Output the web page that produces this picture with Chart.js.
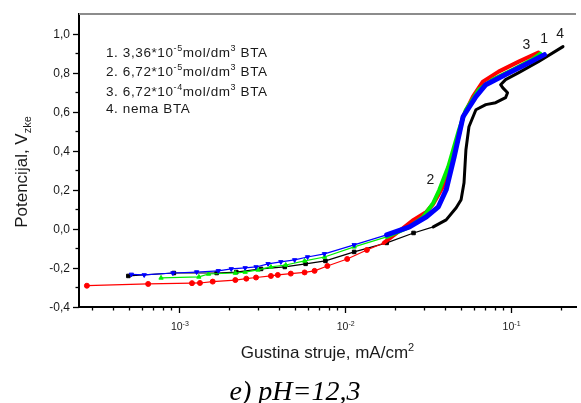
<!DOCTYPE html>
<html lang="en">
<head>
<meta charset="UTF-8">
<title>Polarizacione krive, pH=12,3</title>
<script src="https://cdn.jsdelivr.net/npm/chart.js"></script>
<style>
  body { margin: 0; background: #ffffff; }
  #wrap { width: 581px; height: 403px; }
</style>
</head>
<body>
<div id="wrap"><canvas id="chart" width="581" height="403"></canvas></div>
<script>
// current density (mA/cm2) and potential (V)
const c1X = [5.17e-4, 6.18e-4, 9.21e-4, 1.28e-3, 1.73e-3, 2.07e-3, 2.51e-3, 2.92e-3, 3.45e-3, 4.12e-3, 4.99e-3, 5.97e-3, 7.55e-3, 1.14e-2, 1.79e-2, 2.46e-2, 3.11e-2, 3.67e-2, 4.09e-2, 4.57e-2, 5.17e-2, 6.18e-2, 7.09e-2, 9.33e-2, 0.123, 0.16];
const c1Y = [-0.233, -0.236, -0.226, -0.221, -0.215, -0.205, -0.200, -0.195, -0.179, -0.169, -0.159, -0.144, -0.128, -0.082, -0.031, 0.010, 0.062, 0.113, 0.200, 0.369, 0.574, 0.677, 0.738, 0.790, 0.841, 0.892];

const c2X = [7.81e-4, 1.32e-3, 1.51e-3, 2.19e-3, 2.51e-3, 3.0e-3, 3.59e-3, 4.41e-3, 5.73e-3, 7.55e-3, 1.14e-2, 1.79e-2, 2.46e-2, 2.98e-2, 3.42e-2, 3.72e-2, 4.21e-2, 4.89e-2, 5.38e-2, 6.44e-2, 7.81e-2, 0.103, 0.135, 0.151];
const c2Y = [-0.251, -0.246, -0.231, -0.226, -0.221, -0.210, -0.195, -0.185, -0.164, -0.144, -0.092, -0.041, 0.010, 0.062, 0.133, 0.200, 0.318, 0.508, 0.610, 0.713, 0.764, 0.815, 0.867, 0.897];

const c3X = [2.79e-4, 6.53e-4, 1.20e-3, 1.34e-3, 1.60e-3, 2.19e-3, 2.55e-3, 2.92e-3, 3.59e-3, 3.95e-3, 4.73e-3, 5.73e-3, 6.58e-3, 7.86e-3, 1.035e-2, 1.36e-2, 1.72e-2, 2.06e-2, 2.60e-2, 3.11e-2, 3.42e-2, 3.82e-2, 4.09e-2, 4.70e-2, 5.17e-2, 5.93e-2, 6.81e-2, 8.47e-2, 0.112, 0.147];
const c3Y = [-0.291, -0.282, -0.278, -0.277, -0.270, -0.262, -0.255, -0.249, -0.241, -0.236, -0.229, -0.223, -0.215, -0.190, -0.154, -0.108, -0.072, -0.021, 0.046, 0.087, 0.128, 0.200, 0.251, 0.420, 0.574, 0.677, 0.754, 0.805, 0.856, 0.903];

const c4X = [4.96e-4, 9.33e-4, 1.69e-3, 2.22e-3, 3.13e-3, 4.35e-3, 5.81e-3, 7.65e-3, 1.14e-2, 1.79e-2, 2.60e-2, 3.42e-2, 4.09e-2, 4.70e-2, 5.03e-2, 5.24e-2, 5.38e-2, 5.61e-2, 6.18e-2, 7.09e-2, 8.13e-2, 9.33e-2, 9.59e-2, 8.96e-2, 8.71e-2, 9.33e-2, 0.112, 0.147, 0.207];
const c4Y = [-0.241, -0.226, -0.226, -0.221, -0.205, -0.195, -0.179, -0.164, -0.118, -0.072, -0.021, 0.010, 0.046, 0.108, 0.149, 0.236, 0.405, 0.523, 0.610, 0.636, 0.646, 0.672, 0.697, 0.723, 0.738, 0.764, 0.800, 0.856, 0.933];

const xMajor = [1e-3, 1e-2, 1e-1];
const xMajorExp = ['-3', '-2', '-1'];
const yMajor = [-0.4, -0.2, 0.0, 0.2, 0.4, 0.6, 0.8, 1.0];
const yMajorLabels = ['-0,4', '-0,2', '0,0', '0,2', '0,4', '0,6', '0,8', '1,0'];
const yMinor = [-0.3, -0.1, 0.1, 0.3, 0.5, 0.7, 0.9];

const legendLines = [
  [['1. 3,36*10', ''], ['-5', 'sup'], ['mol/dm', ''], ['3', 'sup'], [' BTA', '']],
  [['2. 6,72*10', ''], ['-5', 'sup'], ['mol/dm', ''], ['3', 'sup'], [' BTA', '']],
  [['3. 6,72*10', ''], ['-4', 'sup'], ['mol/dm', ''], ['3', 'sup'], [' BTA', '']],
  [['4. nema BTA', '']]
];
// curve number labels, placed in data units
const curveTags = [
  { t: '3', x: 0.1246, y: 0.941 },
  { t: '1', x: 0.1596, y: 0.969 },
  { t: '4', x: 0.199, y: 0.995 },
  { t: '2', x: 0.0328, y: 0.251 }
];

const FONT = '"Liberation Sans", Arial, sans-serif';

function pts(xs, ys) {
  return xs.map((v, i) => ({ x: v, y: ys[i] }));
}

function series(label, xs, ys, color, style, rot, dense, thick) {
  return {
    label,
    data: pts(xs, ys),
    borderColor: color,
    backgroundColor: color,
    borderWidth: 1.2,
    borderCapStyle: 'round',
    borderJoinStyle: 'round',
    pointStyle: style,
    rotation: rot,
    pointRadius: c => (c.raw && c.raw.x >= dense) ? 0 : 2.5,
    pointBorderWidth: 1,
    segment: {
      borderWidth: c => c.p0.parsed.x >= dense ? thick : 1.2
    },
    tension: 0
  };
}

function drawParts(ctx, parts, x, y, size, align, spacing) {
  const subSize = Math.round(size * 0.65);
  ctx.letterSpacing = (spacing || 0) + 'px';
  let w = 0;
  parts.forEach(p => {
    ctx.font = (p[1] ? subSize : size) + 'px ' + FONT;
    w += ctx.measureText(p[0]).width;
  });
  let cx = align === 'center' ? x - w / 2 : x;
  ctx.textAlign = 'left';
  ctx.textBaseline = 'alphabetic';
  parts.forEach(p => {
    ctx.font = (p[1] ? subSize : size) + 'px ' + FONT;
    let dy = 0;
    if (p[1] === 'sup') dy = -size * 0.42;
    if (p[1] === 'sub') dy = size * 0.22;
    ctx.fillText(p[0], cx, y + dy);
    cx += ctx.measureText(p[0]).width;
  });
  ctx.letterSpacing = '0px';
}

const decor = {
  id: 'decor',
  afterDraw(chart) {
    const { ctx, chartArea: a } = chart;
    const xs = chart.scales.x, ys = chart.scales.y;
    ctx.save();
    ctx.fillStyle = '#1a1a1a';

    // top frame line
    ctx.strokeStyle = '#8c8c8c';
    ctx.lineWidth = 2;
    ctx.beginPath();
    ctx.moveTo(a.left, a.top);
    ctx.lineTo(a.right, a.top);
    ctx.stroke();

    // x ticks
    ctx.strokeStyle = '#000';
    ctx.lineWidth = 1.3;
    for (let d = -4; d <= -1; d++) {
      for (let k = 1; k <= 9; k++) {
        const v = k * Math.pow(10, d);
        if (v < xs.min || v > xs.max) continue;
        const px = Math.round(xs.getPixelForValue(v)) + 0.5;
        const len = k === 1 ? 6 : 3.5;
        ctx.beginPath();
        ctx.moveTo(px, a.bottom);
        ctx.lineTo(px, a.bottom + len);
        ctx.stroke();
      }
    }
    xMajor.forEach((v, i) => {
      const px = xs.getPixelForValue(v);
      drawParts(ctx, [['10', ''], [xMajorExp[i], 'sup']], px + 1, 330, 10.5, 'center');
    });

    // y ticks
    yMajor.forEach((v, i) => {
      const py = Math.round(ys.getPixelForValue(v)) + 0.5;
      ctx.beginPath();
      ctx.moveTo(a.left - 6, py);
      ctx.lineTo(a.left, py);
      ctx.stroke();
      ctx.font = '12px ' + FONT;
      ctx.textAlign = 'right';
      ctx.textBaseline = 'middle';
      ctx.fillText(yMajorLabels[i], a.left - 9, py);
    });
    yMinor.forEach(v => {
      const py = Math.round(ys.getPixelForValue(v)) + 0.5;
      ctx.beginPath();
      ctx.moveTo(a.left - 3.5, py);
      ctx.lineTo(a.left, py);
      ctx.stroke();
    });

    // axis titles
    drawParts(ctx, [['Gustina struje, mA/cm', ''], ['2', 'sup']], (a.left + a.right) / 2, 358, 17, 'center');
    ctx.save();
    ctx.translate(27, 172);
    ctx.rotate(-Math.PI / 2);
    drawParts(ctx, [['Potencijal, V', ''], ['zke', 'sub']], 0, 0, 17, 'center');
    ctx.restore();

    // caption
    ctx.font = 'italic 28px "Liberation Serif", "Times New Roman", serif';
    ctx.textAlign = 'center';
    ctx.textBaseline = 'alphabetic';
    ctx.fillStyle = '#000';
    ctx.fillText('e) pH=12,3', 295, 400);

    // legend text
    ctx.fillStyle = '#1a1a1a';
    const base = [57, 76, 96, 113];
    legendLines.forEach((ln, i) => drawParts(ctx, ln, 106, base[i], 13.5, 'left', 0.6));

    // curve numbers
    ctx.font = '14px ' + FONT;
    ctx.textAlign = 'center';
    ctx.textBaseline = 'middle';
    curveTags.forEach(t => {
      ctx.fillText(t.t, xs.getPixelForValue(t.x), ys.getPixelForValue(t.y));
    });
    ctx.restore();
  }
};

new Chart(document.getElementById('chart').getContext('2d'), {
  type: 'line',
  data: {
    datasets: [
      series('1', c1X, c1Y, '#0000ff', 'triangle', 180, 0.012, 5),
      series('2', c2X, c2Y, '#00ee00', 'triangle', 0, 0.016, 4),
      series('3', c3X, c3Y, '#ff0000', 'circle', 0, 0.017, 4),
      series('4', c4X, c4Y, '#000000', 'rect', 0, 0.034, 3)
    ]
  },
  options: {
    responsive: false,
    animation: false,
    layout: { padding: { top: 14, right: 0, left: 0, bottom: 0 } },
    plugins: { legend: { display: false }, tooltip: { enabled: false } },
    scales: {
      x: {
        type: 'logarithmic',
        min: 2.5e-4,
        max: 0.248,
        grid: { display: false },
        border: { display: true, color: '#000', width: 2 },
        ticks: { display: false },
        afterFit: s => { s.height = 96; }
      },
      y: {
        type: 'linear',
        min: -0.4,
        max: 1.1,
        grid: { display: false },
        border: { display: true, color: '#000', width: 2 },
        ticks: { display: false },
        afterFit: s => { s.width = 79; }
      }
    }
  },
  plugins: [decor]
});
</script>
</body>
</html>
